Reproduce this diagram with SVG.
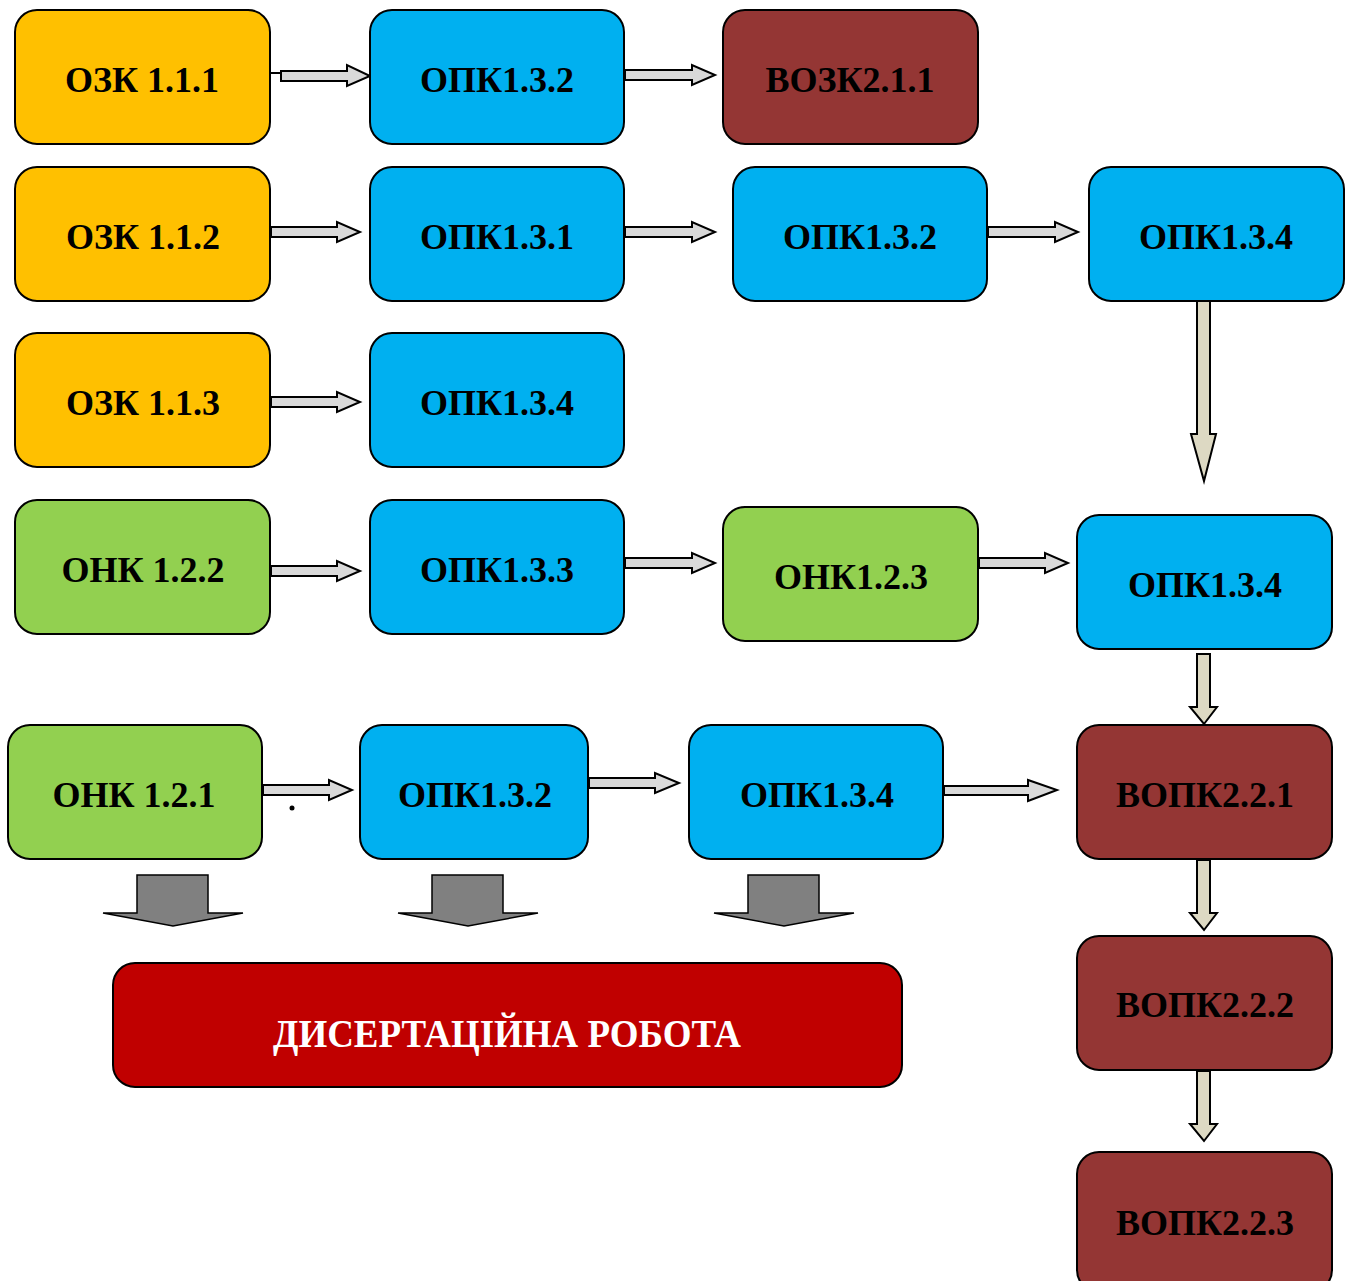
<svg xmlns="http://www.w3.org/2000/svg" width="1352" height="1281" viewBox="0 0 1352 1281">
<style>
.box{stroke:#000;stroke-width:2}
.y{fill:#FFC000}.b{fill:#00B0F0}.g{fill:#92D050}.br{fill:#943634}.r{fill:#C00000}
.t{font-family:"Liberation Serif","Times New Roman",serif;font-weight:bold;font-size:36px;text-anchor:middle;fill:#000}
.tw{fill:#fff;font-size:39px}
.ha{fill:#D9D9D9;stroke:#000;stroke-width:2;stroke-linejoin:miter}
.va{fill:#DDD9C3;stroke:#000;stroke-width:2}
.ga{fill:#808080;stroke:#000;stroke-width:1.5}
</style>
<rect width="1352" height="1281" fill="#fff"/>
<g id="connectors">
<line x1="270" y1="73" x2="281" y2="73" stroke="#000" stroke-width="2"/>
<polygon class="ha" points="281,71 347,71 347,65 370,76 347,86 347,81 281,81"/>
<polygon class="ha" points="625,70 692,70 692,65 715,75 692,85 692,80 625,80"/>
<polygon class="ha" points="271,227 337,227 337,222 360,232 337,242 337,237 271,237"/>
<polygon class="ha" points="625,227 692,227 692,222 715,232 692,242 692,237 625,237"/>
<polygon class="ha" points="988,227 1055,227 1055,222 1078,232 1055,242 1055,237 988,237"/>
<polygon class="ha" points="271,397 337,397 337,392 360,402 337,412 337,407 271,407"/>
<polygon class="ha" points="271,566 337,566 337,561 360,571 337,581 337,576 271,576"/>
<polygon class="ha" points="625,558 692,558 692,553 715,563 692,573 692,568 625,568"/>
<polygon class="ha" points="979,558 1045,558 1045,553 1068,563 1045,573 1045,568 979,568"/>
<polygon class="ha" points="263,785 329,785 329,780 352,790 329,800 329,795 263,795"/>
<polygon class="ha" points="589,778 655,778 655,773 679,783 655,793 655,788 589,788"/>
<polygon class="ha" points="944,786 1028,786 1028,780 1057,790 1028,801 1028,795 944,795"/>
<polygon class="va" points="1197,301 1210,301 1210,434 1216,434 1204,481 1191,434 1197,434"/>
<polygon class="va" points="1197,654 1210,654 1210,707 1217,707 1204,724 1190,707 1197,707"/>
<polygon class="va" points="1197,860 1210,860 1210,913 1217,913 1204,930 1190,913 1197,913"/>
<polygon class="va" points="1197,1071 1210,1071 1210,1124 1217,1124 1204,1141 1190,1124 1197,1124"/>
<polygon class="ga" points="137,875 208,875 208,913 243,913 173,926 103,913 137,913"/>
<polygon class="ga" points="432,875 503,875 503,913 538,913 468,926 398,913 432,913"/>
<polygon class="ga" points="748,875 819,875 819,913 854,913 784,926 714,913 748,913"/>
<circle cx="292" cy="808" r="2.5" fill="#000"/>
</g>
<g id="n1"><rect class="box y" x="15" y="10" width="255" height="134" rx="22"/><text class="t" x="142" y="92">ОЗК 1.1.1</text></g>
<g id="n2"><rect class="box b" x="370" y="10" width="254" height="134" rx="22"/><text class="t" x="497" y="92">ОПК1.3.2</text></g>
<g id="n3"><rect class="box br" x="723" y="10" width="255" height="134" rx="22"/><text class="t" x="850" y="92">ВОЗК2.1.1</text></g>
<g id="n4"><rect class="box y" x="15" y="167" width="255" height="134" rx="22"/><text class="t" x="143" y="249">ОЗК 1.1.2</text></g>
<g id="n5"><rect class="box b" x="370" y="167" width="254" height="134" rx="22"/><text class="t" x="497" y="249">ОПК1.3.1</text></g>
<g id="n6"><rect class="box b" x="733" y="167" width="254" height="134" rx="22"/><text class="t" x="860" y="249">ОПК1.3.2</text></g>
<g id="n7"><rect class="box b" x="1089" y="167" width="255" height="134" rx="22"/><text class="t" x="1216" y="249">ОПК1.3.4</text></g>
<g id="n8"><rect class="box y" x="15" y="333" width="255" height="134" rx="22"/><text class="t" x="143" y="415">ОЗК 1.1.3</text></g>
<g id="n9"><rect class="box b" x="370" y="333" width="254" height="134" rx="22"/><text class="t" x="497" y="415">ОПК1.3.4</text></g>
<g id="n10"><rect class="box g" x="15" y="500" width="255" height="134" rx="22"/><text class="t" x="143" y="582">ОНК 1.2.2</text></g>
<g id="n11"><rect class="box b" x="370" y="500" width="254" height="134" rx="22"/><text class="t" x="497" y="582">ОПК1.3.3</text></g>
<g id="n12"><rect class="box g" x="723" y="507" width="255" height="134" rx="22"/><text class="t" x="851" y="589">ОНК1.2.3</text></g>
<g id="n13"><rect class="box b" x="1077" y="515" width="255" height="134" rx="22"/><text class="t" x="1205" y="597">ОПК1.3.4</text></g>
<g id="n14"><rect class="box g" x="8" y="725" width="254" height="134" rx="22"/><text class="t" x="134" y="807">ОНК 1.2.1</text></g>
<g id="n15"><rect class="box b" x="360" y="725" width="228" height="134" rx="22"/><text class="t" x="475" y="807">ОПК1.3.2</text></g>
<g id="n16"><rect class="box b" x="689" y="725" width="254" height="134" rx="22"/><text class="t" x="817" y="807">ОПК1.3.4</text></g>
<g id="n17"><rect class="box br" x="1077" y="725" width="255" height="134" rx="22"/><text class="t" x="1205" y="807">ВОПК2.2.1</text></g>
<g id="n18"><rect class="box br" x="1077" y="936" width="255" height="134" rx="22"/><text class="t" x="1205" y="1017">ВОПК2.2.2</text></g>
<g id="n19"><rect class="box br" x="1077" y="1152" width="255" height="140" rx="22"/><text class="t" x="1205" y="1235">ВОПК2.2.3</text></g>
<g id="n20"><rect class="box r" x="113" y="963" width="789" height="124" rx="22"/><text class="t tw" x="507" y="1047" textLength="468" lengthAdjust="spacingAndGlyphs">ДИСЕРТАЦІЙНА РОБОТА</text></g>
</svg>
